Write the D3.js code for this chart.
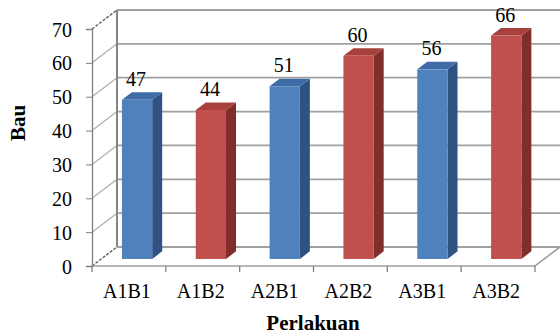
<!DOCTYPE html>
<html>
<head>
<meta charset="utf-8">
<script src="https://cdn.jsdelivr.net/npm/d3@7"></script>
<style>
  body { margin: 0; background: #fff; }
  text { font-family: "Liberation Serif", "Times New Roman", serif; fill: #000; }
</style>
</head>
<body>
<div class="visHolder"></div>
<script>
// chart data
var categories = ["A1B1", "A1B2", "A2B1", "A2B2", "A3B1", "A3B2"];
var values = [47, 44, 51, 60, 56, 66];
var groups = ["B1", "B2", "B1", "B2", "B1", "B2"];
var yTicks = [0, 10, 20, 30, 40, 50, 60, 70];

var width = 560, height = 336;

// 3d box: front plane and offset to the back wall
var plotLeft = 92, plotRight = 535, plotBottom = 266, plotTop = 29;
var DX = 25, DY = 19;
var dFront = 0.37, dBack = 0.77;

var colors = {
    B1: { front: "#4f81bd", side: "#2f5283", top: "#3f6ca6" },
    B2: { front: "#c0504d", side: "#7f2e2c", top: "#a8403d" }
};

var svg = d3.select(".visHolder")
    .append("svg")
    .attr("width", width)
    .attr("height", height)
    .style("display", "block");

var x = d3.scaleBand().domain(categories).range([plotLeft, plotRight]).padding(0);
var y = d3.scaleLinear().domain([0, 70]).range([plotBottom, plotTop]);

// project (screen x on front, value, depth) -> point
function px(xv, d) { return xv + d * DX; }
function py(v, d) { return y(v) - d * DY; }

// side wall diagonals
svg.append("g").selectAll("line")
    .data(yTicks)
    .enter()
    .append("line")
    .attr("x1", plotLeft).attr("y1", (d) => py(d, 0))
    .attr("x2", plotLeft + DX).attr("y2", (d) => py(d, 1))
    .style("stroke", (d) => (d === 0 || d === 70) ? "#555" : "#b0b0b0")
    .style("stroke-width", 1.3)
    .style("stroke-dasharray", (d) => (d === 0 || d === 70) ? "3,1.5" : null);

// back wall gridlines
svg.append("g").selectAll("line")
    .data(yTicks)
    .enter()
    .append("line")
    .attr("x1", plotLeft + DX).attr("x2", width)
    .attr("y1", (d) => py(d, 1)).attr("y2", (d) => py(d, 1))
    .style("stroke", "#a0a0a0")
    .style("stroke-width", 1.8);

// back wall left edge
svg.append("line")
    .attr("x1", plotLeft + DX).attr("x2", plotLeft + DX)
    .attr("y1", py(0, 1)).attr("y2", py(70, 1))
    .style("stroke", "#858585")
    .style("stroke-width", 2);

// floor front and right edges
svg.append("path")
    .attr("d", `M${plotLeft},${py(0, 0)}L${plotRight},${py(0, 0)}L${plotRight + DX},${py(0, 1)}`)
    .style("fill", "none")
    .style("stroke", "#a0a0a0")
    .style("stroke-width", 1.6);

// y axis
svg.append("g")
    .attr("transform", `translate(${plotLeft},0)`)
    .call(d3.axisLeft(y).tickValues(yTicks).tickSize(6).tickPadding(14))
    .call((g) => g.select(".domain").style("stroke", "#808080").style("stroke-width", 1.3))
    .call((g) => g.selectAll(".tick line").style("stroke", "#808080"))
    .call((g) => g.selectAll("text")
        .style("font-family", "'Liberation Serif', serif")
        .style("font-size", "20px")
        .attr("dy", "0.35em"));

// x axis boundary ticks
svg.append("g").selectAll("line")
    .data(categories.concat(["end"]))
    .enter()
    .append("line")
    .attr("x1", (d) => d === "end" ? plotRight : x(d))
    .attr("x2", (d) => d === "end" ? plotRight : x(d))
    .attr("y1", plotBottom).attr("y2", plotBottom + 6)
    .style("stroke", "#808080")
    .style("stroke-width", 1.3);

// x axis labels
svg.append("g")
    .attr("transform", `translate(0,${plotBottom})`)
    .call(d3.axisBottom(x).tickSize(0))
    .call((g) => g.select(".domain").remove())
    .call((g) => g.selectAll("text")
        .style("font-family", "'Liberation Serif', serif")
        .style("font-size", "20px")
        .attr("x", -2)
        .attr("y", 32)
        .attr("dy", 0));

// bars
var bw = x.bandwidth();
var bars = svg.append("g").selectAll("g")
    .data(categories)
    .enter()
    .append("g");

function fx(c) { return x(c) + bw * 0.28; }
var fw = bw * 0.41;

bars.append("polygon")
    .attr("points", (c, i) => {
        var x0 = px(fx(c) + fw, dFront), x1 = px(fx(c) + fw, dBack);
        return [[x0, py(0, dFront)], [x1, py(0, dBack)], [x1, py(values[i], dBack)], [x0, py(values[i], dFront)]].join(" ");
    })
    .style("fill", (c, i) => colors[groups[i]].side);

bars.append("polygon")
    .attr("points", (c, i) => {
        var v = values[i];
        return [[px(fx(c), dFront), py(v, dFront)], [px(fx(c) + fw, dFront), py(v, dFront)],
            [px(fx(c) + fw, dBack), py(v, dBack)], [px(fx(c), dBack), py(v, dBack)]].join(" ");
    })
    .style("fill", (c, i) => colors[groups[i]].top);

bars.append("rect")
    .attr("x", (c) => px(fx(c), dFront))
    .attr("y", (c, i) => py(values[i], dFront))
    .attr("width", fw)
    .attr("height", (c, i) => py(0, dFront) - py(values[i], dFront))
    .style("fill", (c, i) => colors[groups[i]].front);

// value labels
bars.append("text")
    .attr("x", (c) => px(fx(c), dFront) + fw / 2 - 1)
    .attr("y", (c, i) => py(values[i], dFront) - 14)
    .style("text-anchor", "middle")
    .style("font-size", "20px")
    .text((c, i) => values[i]);

// axis titles
svg.append("text")
    .attr("transform", "translate(25,123) rotate(-90)")
    .style("text-anchor", "middle")
    .style("font-size", "21px")
    .style("font-weight", "bold")
    .text("Bau");

svg.append("text")
    .attr("x", 313)
    .attr("y", 330)
    .style("text-anchor", "middle")
    .style("font-size", "21px")
    .style("font-weight", "bold")
    .text("Perlakuan");
</script>
</body>
</html>
